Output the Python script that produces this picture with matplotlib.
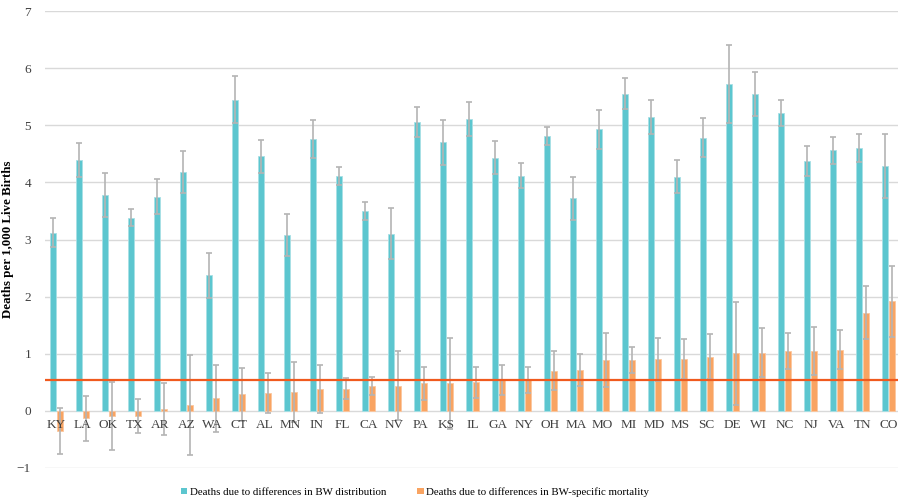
import matplotlib
matplotlib.use("Agg")
import matplotlib.pyplot as plt
import numpy as np
from matplotlib.patches import Patch

states = ["KY","LA","OK","TX","AR","AZ","WA","CT","AL","MN","IN","FL","CA","NV","PA",
          "KS","IL","GA","NY","OH","MA","MO","MI","MD","MS","SC","DE","WI","NC","NJ","VA","TN","CO"]

bw_dist = [3.12, 4.39, 3.78, 3.38, 3.75, 4.18, 2.37, 5.45, 4.46, 3.08, 4.76, 4.11, 3.50, 3.10, 5.06,
           4.70, 5.11, 4.43, 4.12, 4.81, 3.72, 4.93, 5.55, 5.15, 4.10, 4.78, 5.72, 5.55, 5.22, 4.38,
           4.56, 4.60, 4.29]
bw_dist_err = [0.26, 0.30, 0.39, 0.15, 0.31, 0.37, 0.39, 0.41, 0.29, 0.37, 0.33, 0.16, 0.16, 0.45, 0.26,
               0.40, 0.29, 0.29, 0.22, 0.16, 0.37, 0.34, 0.27, 0.30, 0.29, 0.34, 0.68, 0.39, 0.23, 0.26,
               0.24, 0.24, 0.56]
bw_mort = [-0.35, -0.13, -0.09, -0.09, 0.03, 0.10, 0.22, 0.29, 0.31, 0.33, 0.39, 0.39, 0.43, 0.44, 0.48,
           0.48, 0.50, 0.54, 0.54, 0.70, 0.71, 0.89, 0.89, 0.90, 0.91, 0.95, 1.01, 1.02, 1.05, 1.05,
           1.07, 1.72, 1.92]
bw_mort_err = [0.40, 0.39, 0.60, 0.29, 0.45, 0.87, 0.59, 0.46, 0.35, 0.53, 0.42, 0.19, 0.16, 0.60, 0.29,
               0.79, 0.27, 0.26, 0.22, 0.34, 0.28, 0.47, 0.22, 0.38, 0.35, 0.40, 0.90, 0.43, 0.31, 0.42,
               0.34, 0.46, 0.62]
reference = 0.54
yticks = [-1, 0, 1, 2, 3, 4, 5, 6, 7]

plt.rcParams['font.family'] = ['Liberation Serif', 'DejaVu Serif']

teal = "#5CC6CF"
orange = "#F9A462"
line_col = "#F05A1E"
err_col = "#B4B4B4"

fig = plt.figure(figsize=(8.99, 5.03), dpi=100)
ax = fig.add_axes([45/899, 35/503, 853/899, 457/503])

n = len(states)
x = np.arange(n)
w = 0.23
off = 0.14
for t in yticks:
    ax.axhline(t, color="#D9D9D9", linewidth=1.0, zorder=0.5)
ekw = dict(ecolor=err_col, elinewidth=1.2, capsize=2.5, capthick=1.2, zorder=2.2)
ax.bar(x - off, bw_dist, w, color=teal, edgecolor="#A8E0E5", linewidth=0.6,
       yerr=bw_dist_err, error_kw=ekw, zorder=2)
ax.bar(x + off, bw_mort, w, color=orange, edgecolor="#FBC79F", linewidth=0.6,
       yerr=bw_mort_err, error_kw=ekw, zorder=2)
ax.axhline(reference, color=line_col, linewidth=1.6, zorder=2.4)

ax.set_xlim(-0.44, n - 1 + 0.36)
ax.set_ylim(-1, 7)
ax.set_yticks(yticks)
ax.set_yticklabels([str(t) if t >= 0 else "\u22121" for t in yticks], fontsize=9.5, color="#404040")
ax.set_axisbelow(False)
for s in ax.spines.values():
    s.set_visible(False)
ax.spines['bottom'].set_position(('data', 0))
ax.tick_params(axis='both', length=0)
ax.tick_params(axis='y', pad=10)
ax.set_xticks(x)
ax.set_xticklabels(states, fontsize=9.5, color="#404040")
ax.tick_params(axis='x', pad=6)
ax.set_ylabel("Deaths per 1,000 Live Births", fontsize=9.3, fontweight='bold')
ax.yaxis.set_label_coords(-31/853, 0.5)

handles = [Patch(facecolor=teal, edgecolor='none'), Patch(facecolor=orange, edgecolor='none')]
fig.legend(handles, ["Deaths due to differences in BW distribution",
                     "Deaths due to differences in BW-specific mortality"],
           loc='center', bbox_to_anchor=(415/899, 1 - 492/503), ncol=2, frameon=False,
           fontsize=7.8, handlelength=0.6, handleheight=0.6, handletextpad=0.2, columnspacing=2.9)

fig.savefig("out.png", dpi=100)
